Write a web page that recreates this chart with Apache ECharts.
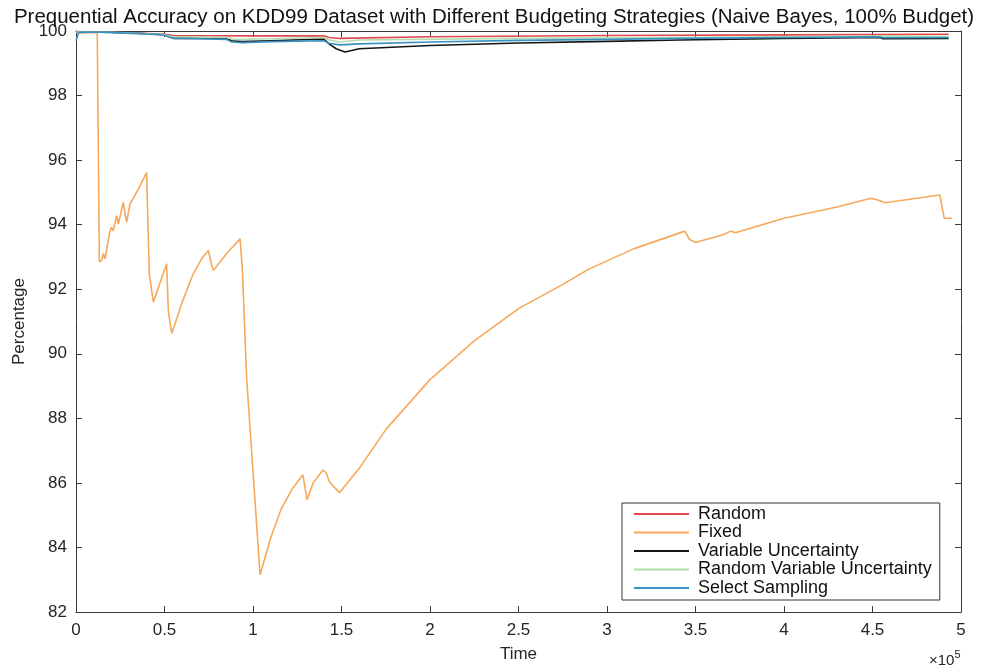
<!DOCTYPE html>
<html><head><meta charset="utf-8">
<script src="https://cdn.jsdelivr.net/npm/echarts@6/dist/echarts.min.js"></script>
<style>html,body{margin:0;padding:0;background:#fff}#c{width:988px;height:668px}</style>
</head><body><div id="c"></div>
<script>
const titleText = 'Prequential Accuracy on KDD99 Dataset with Different Budgeting Strategies (Naive Bayes, 100% Budget)';
const seriesNames = ['Random','Fixed','Variable Uncertainty','Random Variable Uncertainty','Select Sampling'];
const xTicks = [0,50000,100000,150000,200000,250000,300000,350000,400000,450000,500000];
const yTicks = [82,84,86,88,90,92,94,96,98,100];

const randomData = [[0,99.98],[20000,99.96],[35000,99.94],[50000,99.9],[55000,99.86],[100000,99.85],[140000,99.85],[143000,99.8],[149000,99.77],[200000,99.82],[300000,99.86],[400000,99.88],[493000,99.9]];
const fixedData = [[0,99.95],[12000,99.95],[13200,92.85],[14500,92.89],[15400,93.1],[16400,92.94],[19200,93.81],[20000,93.92],[21000,93.81],[23000,94.28],[23900,94.02],[26700,94.69],[28600,94.07],[30500,94.64],[35200,95.1],[39900,95.61],[41000,93.3],[41400,92.48],[43700,91.6],[47500,92.2],[51200,92.79],[52200,91.3],[54100,90.63],[60000,91.6],[66000,92.45],[71000,92.95],[74800,93.2],[76700,92.74],[77600,92.58],[85000,93.1],[92700,93.56],[94000,92.6],[96400,89.24],[104000,83.15],[110000,84.3],[116000,85.2],[122000,85.8],[128200,86.25],[130500,85.48],[134000,86.0],[139500,86.4],[141500,86.3],[143000,86.05],[144600,85.94],[146000,85.86],[149000,85.7],[160000,86.45],[175000,87.65],[200000,89.2],[225000,90.4],[250000,91.4],[275000,92.15],[290000,92.63],[315000,93.25],[344000,93.8],[346500,93.55],[350000,93.45],[365000,93.68],[370000,93.8],[372500,93.75],[400000,94.2],[430000,94.55],[449000,94.82],[454000,94.75],[457000,94.68],[470000,94.78],[488000,94.92],[490500,94.2],[495000,94.2]];
const varUncData = [[0,99.97],[10000,99.97],[20000,99.96],[35000,99.93],[45000,99.9],[50000,99.87],[53000,99.85],[55000,99.77],[70000,99.78],[85000,99.76],[88000,99.7],[94000,99.67],[110000,99.7],[140000,99.75],[143000,99.6],[147000,99.45],[152000,99.35],[160000,99.45],[200000,99.55],[250000,99.63],[300000,99.68],[341000,99.72],[400000,99.77],[454000,99.8],[456000,99.76],[493000,99.77]];
const randVarUncData = [[0,99.97],[20000,99.96],[35000,99.93],[50000,99.88],[55000,99.82],[85000,99.8],[90000,99.74],[110000,99.76],[140000,99.8],[143000,99.72],[149000,99.66],[160000,99.72],[250000,99.77],[341000,99.8],[454000,99.84],[493000,99.83]];
const selectData = [[0,99.7],[1500,99.95],[10000,99.97],[20000,99.95],[35000,99.92],[45000,99.89],[50000,99.87],[54000,99.78],[70000,99.76],[85000,99.74],[88000,99.66],[94000,99.64],[110000,99.67],[140000,99.7],[143000,99.62],[149000,99.57],[160000,99.6],[200000,99.66],[250000,99.71],[300000,99.74],[341000,99.77],[400000,99.8],[454000,99.82],[456000,99.79],[493000,99.8]];

const colors = ['#e0474c','#f6a85b','#151515','#b3dbae','#3a92c2'];
const allData = [randomData, fixedData, varUncData, randVarUncData, selectData];

const chart = echarts.init(document.getElementById('c'), null, {renderer:'canvas'});
const axisColor = '#3a3a3a';
const fam = 'Liberation Sans, Arial, sans-serif';
const labelFont = {fontFamily:fam, fontSize:17, color:'#262626'};
const option = {
  animation:false,
  backgroundColor:'#fff',
  title:{text:titleText, left:'center', top:2, textStyle:{fontFamily:fam, fontSize:20.5, fontWeight:'normal', color:'#111'}},
  grid:{left:76, right:27, top:31, bottom:53, containLabel:false},
  legend:{orient:'vertical', left:622, top:503, itemWidth:55, itemHeight:2, itemGap:0.5, icon:'rect',
    data:seriesNames, backgroundColor:'#fff', borderColor:'#333', borderWidth:1, borderRadius:0,
    padding:[2,8,3,12], textStyle:{fontFamily:fam, fontSize:18, color:'#111', padding:[0,0,0,4]}},
  xAxis:[
    {type:'value', min:0, max:500000, interval:50000, position:'bottom',
     name:'Time', nameLocation:'middle', nameGap:34, nameTextStyle:labelFont,
     axisLine:{show:true, onZero:false, lineStyle:{color:axisColor, width:1}},
     axisTick:{inside:true, length:6, lineStyle:{color:axisColor}},
     axisLabel:{margin:10, ...labelFont, formatter:v=>String(v/100000)},
     splitLine:{show:false}},
    {type:'value', min:0, max:500000, interval:50000, position:'top',
     axisLine:{show:true, onZero:false, lineStyle:{color:axisColor, width:1}},
     axisTick:{inside:true, length:6, lineStyle:{color:axisColor}},
     axisLabel:{show:false}, splitLine:{show:false}}
  ],
  yAxis:[
    {type:'value', min:82, max:100, interval:2, position:'left',
     name:'Percentage', nameLocation:'middle', nameGap:46, nameRotate:90, nameTextStyle:labelFont,
     axisLine:{show:true, onZero:false, lineStyle:{color:axisColor, width:1}},
     axisTick:{inside:true, length:6, lineStyle:{color:axisColor}},
     axisLabel:{margin:9, ...labelFont}, splitLine:{show:false}},
    {type:'value', min:82, max:100, interval:2, position:'right',
     axisLine:{show:true, onZero:false, lineStyle:{color:axisColor, width:1}},
     axisTick:{inside:true, length:6, lineStyle:{color:axisColor}},
     axisLabel:{show:false}, splitLine:{show:false}}
  ],
  graphic:[{type:'text', left:929, top:649, style:{
    text:'{a|×10}{b|5}', rich:{a:{fontSize:15, fontFamily:fam, fill:'#262626', padding:[6,0,0,0]}, b:{fontSize:11, fontFamily:fam, fill:'#262626', padding:[0,0,6,0]}}}}],
  series: seriesNames.map((n,i)=>({
    name:n, type:'line', data:allData[i], symbol:'none', showSymbol:false,
    lineStyle:{color:colors[i], width:1.6}, itemStyle:{color:colors[i]},
    z: i, clip:true
  }))
};
chart.setOption(option);
</script></body></html>
